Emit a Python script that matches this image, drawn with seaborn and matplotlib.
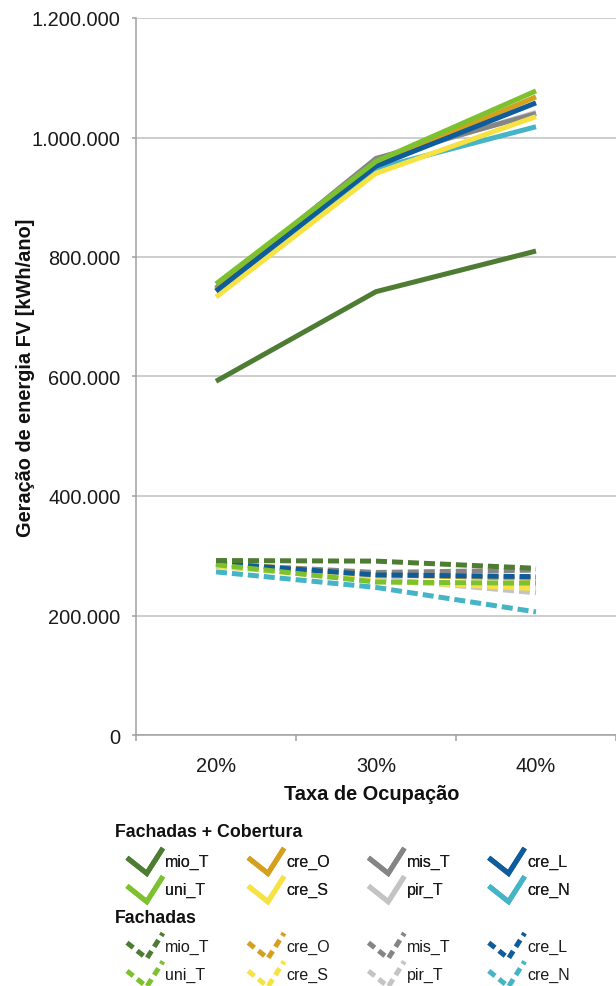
import numpy as np
import pandas as pd
import matplotlib
matplotlib.use("Agg")
import matplotlib.pyplot as plt
from matplotlib.lines import Line2D
from matplotlib.legend_handler import HandlerBase
import seaborn as sns

# ---- data -------------------------------------------------------------
taxas = ["20%", "30%", "40%"]
series = ["mio_T", "uni_T", "cre_O", "cre_S", "mis_T", "pir_T", "cre_L", "cre_N"]
grupos = ["Fachadas + Cobertura", "Fachadas"]

# Fachadas + Cobertura  [kWh/ano]
fc_mio_T = [592000, 742000, 810000]
fc_uni_T = [755000, 960000, 1078000]
fc_cre_O = [745000, 955000, 1068000]
fc_cre_S = [733000, 940000, 1035000]
fc_mis_T = [748000, 965000, 1040000]
fc_pir_T = [745000, 962000, 1042000]
fc_cre_L = [743000, 952000, 1058000]
fc_cre_N = [743000, 948000, 1018000]

# Fachadas  [kWh/ano]
f_mio_T = [292000, 291000, 279000]
f_uni_T = [285000, 256000, 254000]
f_cre_O = [288000, 268000, 262000]
f_cre_S = [283000, 258000, 245000]
f_mis_T = [286000, 272000, 276000]
f_pir_T = [282000, 262000, 238000]
f_cre_L = [287000, 268000, 265000]
f_cre_N = [273000, 247000, 206000]

cores = {
    "mio_T": "#4F7C33",
    "uni_T": "#7DC22E",
    "cre_O": "#D4A01E",
    "cre_S": "#F7E244",
    "mis_T": "#858585",
    "pir_T": "#C4C4C4",
    "cre_L": "#0E5C9C",
    "cre_N": "#45B4C6",
}

valores = {
    "Fachadas + Cobertura": [fc_mio_T, fc_uni_T, fc_cre_O, fc_cre_S,
                             fc_mis_T, fc_pir_T, fc_cre_L, fc_cre_N],
    "Fachadas": [f_mio_T, f_uni_T, f_cre_O, f_cre_S,
                 f_mis_T, f_pir_T, f_cre_L, f_cre_N],
}

# stacking order of the lines (first drawn lies underneath)
ordem_desenho = ["cre_N", "pir_T", "mis_T", "cre_O", "cre_S", "cre_L",
                 "uni_T", "mio_T"]

rows = []
for g in grupos:
    for s, vals in zip(series, valores[g]):
        for t, v in zip(taxas, vals):
            rows.append({"Taxa": t, "Geracao": v, "Serie": s, "Grupo": g})
df = pd.DataFrame(rows)

# ---- style ------------------------------------------------------------
sns.set_theme(style="white")
plt.rcParams["font.family"] = ["Liberation Sans", "DejaVu Sans"]

LW = 3.6
DASH = (2.2, 1.0)
GRID = "#C0C0C0"
AXC = "#A0A0A0"

fig = plt.figure(figsize=(6.16, 9.87), dpi=100)
ax = fig.add_axes([136 / 616, 1 - 736 / 987, 480 / 616, (736 - 19) / 987])

sns.lineplot(
    data=df, x="Taxa", y="Geracao", hue="Serie", style="Grupo",
    hue_order=ordem_desenho, style_order=grupos, palette=cores,
    dashes={"Fachadas + Cobertura": "", "Fachadas": DASH},
    linewidth=LW, legend=False, ax=ax, sort=False,
    solid_capstyle="butt", dash_capstyle="butt", solid_joinstyle="miter",
)

# ---- axes -------------------------------------------------------------
ax.set_xlim(-0.5, 2.5)
ax.set_ylim(0, 1_200_000)
yt = np.arange(0, 1_200_001, 200_000)
ax.set_yticks(yt)
ax.set_yticklabels([f"{v:,.0f}".replace(",", ".") for v in yt])
ax.yaxis.grid(True, color=GRID, linewidth=1.1)
ax.xaxis.grid(False)
ax.set_axisbelow(True)

ax.set_xticks([0, 1, 2])
ax.set_xticks([-0.5, 0.5, 1.5, 2.5], minor=True)
ax.tick_params(axis="x", which="major", length=0, pad=15, labelsize=14.4,
               labelcolor="#1a1a1a")
ax.tick_params(axis="x", which="minor", length=4, width=1.1, color=AXC,
               direction="out", bottom=True)
ax.tick_params(axis="y", which="major", length=3, width=1.1, color=AXC,
               direction="out", left=True, pad=8, labelsize=14.4,
               labelcolor="#1a1a1a")

for side in ["top", "right"]:
    ax.spines[side].set_visible(False)
for side in ["left", "bottom"]:
    ax.spines[side].set_color(AXC)
    ax.spines[side].set_linewidth(1.1)

ax.set_xlabel("Taxa de Ocupação", fontsize=14.4, fontweight="bold",
              color="#111111")
ax.xaxis.set_label_coords(0.49, -0.081)
ax.xaxis.label.set_va("center")
ax.set_ylabel("Geração de energia FV [kWh/ano]", fontsize=14.4,
              fontweight="bold", color="#111111")
ax.yaxis.set_label_coords(-0.23, 0.5)
ax.yaxis.label.set_va("center")


# ---- legend -----------------------------------------------------------
class VHandler(HandlerBase):
    """Zig-zag line icon for the legend entries."""

    def create_artists(self, legend, orig_handle, xdescent, ydescent,
                       width, height, fontsize, trans):
        xs = np.array([0.0, 0.55, 1.0]) * width - xdescent
        ys = (np.array([0.62, 0.0, 1.0]) * 1.3 - 0.15) * height - ydescent
        ln = Line2D(xs, ys)
        ln.update_from(orig_handle)
        ln.set_data(xs, ys)
        ln.set_transform(trans)
        return [ln]


def proxies(dashed):
    hs = []
    for s in series:
        h = Line2D([], [], color=cores[s], linewidth=LW,
                   solid_joinstyle="miter", solid_capstyle="butt",
                   dash_capstyle="butt")
        if dashed:
            h.set_dashes((1.6, 1.0))
        hs.append(h)
    return hs


def draw_legend(dashed, y_top):
    leg = fig.legend(
        proxies(dashed), series, handler_map={Line2D: VHandler()},
        loc="upper left", bbox_to_anchor=(127 / 616, 1 - y_top / 987),
        bbox_transform=fig.transFigure, ncol=4, frameon=False,
        fontsize=11.5, handlelength=2.25, handleheight=1.5,
        handletextpad=0.15, columnspacing=2.4, labelspacing=0.55,
        borderpad=0, borderaxespad=0,
    )
    for t in leg.get_texts():
        t.set_color("#1a1a1a")
    return leg


fig.text(115 / 616, 1 - 833 / 987, "Fachadas + Cobertura", fontsize=12.8,
         fontweight="bold", va="center", ha="left", color="#111111")
fig.text(115 / 616, 1 - 919 / 987, "Fachadas", fontsize=12.8,
         fontweight="bold", va="center", ha="left", color="#111111")

leg1 = draw_legend(False, 852)
fig.add_artist(leg1)
leg2 = draw_legend(True, 937)

fig.savefig("out.png", dpi=100, facecolor="white")
